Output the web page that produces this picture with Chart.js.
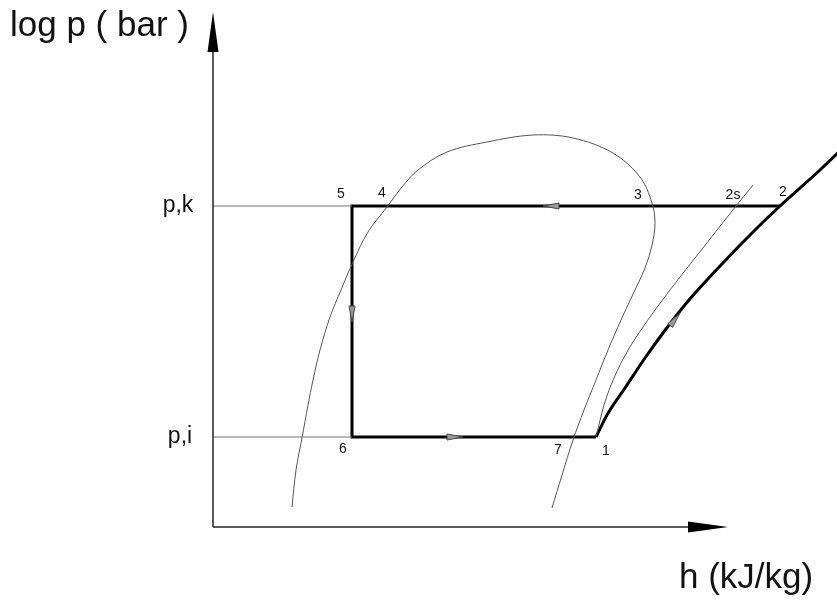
<!DOCTYPE html>
<html lang="en">
<head>
  <meta charset="UTF-8" />
  <title>log p - h diagram</title>
  <script src="https://cdn.jsdelivr.net/npm/chart.js"></script>
  <style>
    body {
      margin: 0;
      padding: 0;
      background: white;
    }
    canvas {
      display: block;
    }
  </style>
</head>
<body>
  <canvas id="chartPH" width="837" height="602"></canvas>

  <script>
    // pressure levels (log p units) and state points
    const pK = 321;
    const pI = 90;
    const stateNames = ['1', '2', '2s', '3', '4', '5', '6', '7'];
    const stateH =     [383, 567, 522, 439, 174, 139, 139, 359];
    const stateP =     [pI,  pK,  pK,  pK,  pK,  pK,  pI,  pI];

    // saturation dome (liquid side -> top -> vapour side)
    const domeH = [79, 83, 89, 95, 100, 107, 117, 128, 140, 155, 174, 189, 205, 234, 274, 320, 360, 400, 427, 439, 442, 439, 432, 421, 408, 395, 383, 371, 360, 349, 339];
    const domeP = [20, 57, 89, 122, 147, 177, 210, 237, 265, 295, 320, 340, 357, 375, 385, 392, 389, 374, 350, 324, 304, 282, 259, 235, 207, 177, 147, 117, 87, 52, 19];

    // real compression 1 -> 2
    const compH = [383, 394, 412, 432, 453, 476, 508, 542, 567, 607, 633];
    const compP = [90, 112, 139, 169, 198, 227, 262, 297, 321, 357, 382];

    // isentropic compression 1 -> 2s
    const isenH = [383, 391, 401, 414, 430, 448, 467, 486, 504, 523, 540];
    const isenP = [90, 122, 149, 175, 200, 225, 250, 274, 297, 321, 342];

    // cycle 2 -> 5 -> 6 -> 1
    const cycleH = [567, 139, 139, 383];
    const cycleP = [pK, pK, pI, pI];

    // direction arrows on the cycle: tip and a point behind it
    const arrowTipH  = [330, 139, 250, 467];
    const arrowTipP  = [pK, 205, pI, 214];
    const arrowTailH = [345, 139, 231, 457];
    const arrowTailP = [pK, 220, pI, 201];

    const toPts = (hs, ps) => hs.map((h, i) => ({ x: h, y: ps[i] }));

    const decor = {
      id: 'decor',
      afterDatasetsDraw(chart) {
        const ctx = chart.ctx;
        const xs = chart.scales.x, ys = chart.scales.y;
        const X = v => xs.getPixelForValue(v);
        const Y = v => ys.getPixelForValue(v);
        ctx.save();

        // axis arrowheads
        ctx.fillStyle = '#000';
        ctx.beginPath();
        ctx.moveTo(X(0), Y(515));
        ctx.lineTo(X(0) - 5.5, Y(475));
        ctx.lineTo(X(0) + 5.5, Y(475));
        ctx.closePath();
        ctx.fill();
        ctx.beginPath();
        ctx.moveTo(X(515), Y(0));
        ctx.lineTo(X(475), Y(0) - 5.5);
        ctx.lineTo(X(475), Y(0) + 5.5);
        ctx.closePath();
        ctx.fill();

        // small open arrows on the cycle
        arrowTipH.forEach((h, i) => {
          const tx = X(h), ty = Y(arrowTipP[i]);
          const bx = X(arrowTailH[i]), by = Y(arrowTailP[i]);
          const len = Math.hypot(tx - bx, ty - by);
          const ux = (tx - bx) / len, uy = (ty - by) / len;
          const L = 16, W = 3;
          const baseX = tx - ux * L, baseY = ty - uy * L;
          ctx.beginPath();
          ctx.moveTo(tx, ty);
          ctx.lineTo(baseX - uy * W, baseY + ux * W);
          ctx.lineTo(baseX + uy * W, baseY - ux * W);
          ctx.closePath();
          ctx.fillStyle = '#9a9a9a';
          ctx.strokeStyle = '#444';
          ctx.lineWidth = 1;
          ctx.fill();
          ctx.stroke();
        });

        // state labels
        const offs = {
          '1': [10, 14], '2': [3, -14], '2s': [-2, -11], '3': [-14, -11],
          '4': [-5, -13], '5': [-11, -12], '6': [-9, 12], '7': [-14, 13]
        };
        ctx.fillStyle = '#111';
        ctx.font = '14px "Liberation Sans", Arial, sans-serif';
        ctx.textAlign = 'center';
        ctx.textBaseline = 'middle';
        stateNames.forEach((n, i) => {
          const o = offs[n];
          ctx.fillText(n, X(stateH[i]) + o[0], Y(stateP[i]) + o[1]);
        });

        // pressure level labels
        ctx.font = '23px "Liberation Sans", Arial, sans-serif';
        ctx.fillText('p,k', X(-35), Y(pK));
        ctx.fillText('p,i', X(-33), Y(pI));

        // axis titles
        ctx.textAlign = 'left';
        ctx.textBaseline = 'alphabetic';
        ctx.font = '35px "Liberation Sans", Arial, sans-serif';
        ctx.fillText('log p ( bar )', X(-203), Y(491));
        ctx.fillText('h (kJ/kg)', X(466), Y(-61));
        ctx.restore();
      }
    };

    const thin = { borderColor: '#555', borderWidth: 1 };
    const thick = { borderColor: '#000', borderWidth: 3 };

    new Chart(document.getElementById('chartPH'), {
      type: 'scatter',
      data: {
        datasets: [
          { data: toPts([0, 0], [0, 475]), ...thin, borderColor: '#222', borderWidth: 1.5 },
          { data: toPts([0, 475], [0, 0]), ...thin, borderColor: '#222', borderWidth: 1.5 },
          { data: toPts([0, 139], [pK, pK]), ...thin, borderColor: '#777' },
          { data: toPts([0, 139], [pI, pI]), ...thin, borderColor: '#777' },
          { data: toPts(domeH, domeP), ...thin, tension: 0.35 },
          { data: toPts(isenH, isenP), ...thin, cubicInterpolationMode: 'monotone' },
          { data: toPts(cycleH, cycleP), ...thick, borderJoinStyle: 'miter' },
          { data: toPts(compH, compP), ...thick, cubicInterpolationMode: 'monotone' }
        ].map(d => ({ showLine: true, pointRadius: 0, fill: false, ...d }))
      },
      options: {
        responsive: false,
        animation: false,
        devicePixelRatio: 1,
        layout: { padding: 0 },
        plugins: { legend: { display: false }, tooltip: { enabled: false } },
        scales: {
          x: { type: 'linear', min: -213, max: 624, display: false },
          y: { type: 'linear', min: -75, max: 527, display: false }
        }
      },
      plugins: [decor]
    });
  </script>
</body>
</html>
